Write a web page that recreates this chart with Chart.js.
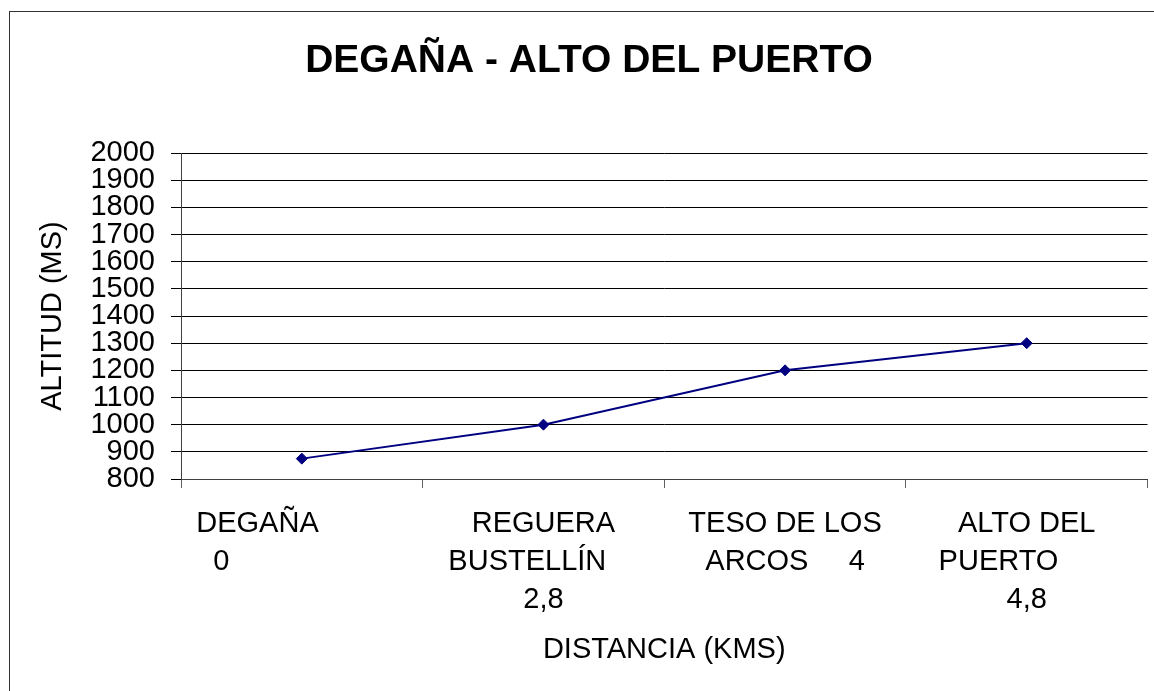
<!DOCTYPE html>
<html>
<head>
<meta charset="utf-8">
<title>DEGAÑA - ALTO DEL PUERTO</title>
<script src="https://cdn.jsdelivr.net/npm/chart.js@4"></script>
<style>
    body { margin: 0; overflow: hidden; background: #ffffff; }
    /* marco del gráfico de Excel, recortado por la derecha y por abajo */
    #marco {
        position: absolute; left: 9px; top: 11px;
        width: 1300px; height: 800px;
        border-left: 1px solid #333333; border-top: 1px solid #333333;
    }
    #myChart { position: absolute; left: 0; top: 0; }
</style>
</head>
<body>
<div id="marco"></div>
<canvas id="myChart" width="1154" height="691"></canvas>
<script>
// categorías del eje x (tal como salen partidas en el gráfico original)
const etiquetas = [
    ['DEGAÑA', '0'],
    ['REGUERA', 'BUSTELLÍN', '2,8'],
    ['TESO DE LOS', 'ARCOS     4'],
    ['ALTO DEL', 'PUERTO', '4,8']
]
// altitud en metros de cada punto
const altitudes = [875, 1000, 1200, 1300]
// eje y
const minY = 800
const maxY = 2000
const pasoY = 100

const titulo = 'DEGAÑA - ALTO DEL PUERTO'
const tituloY = 'ALTITUD (MS)'
const tituloX = 'DISTANCIA (KMS)'

// espacios al final de cada línea para correr el texto a la izquierda como en el Excel
const huecos = [[11, 20], [0, 4, 0], [0, 0], [0, 7, 0]]

const fuente = "Arial, 'Liberation Sans', sans-serif"

const ctx = document.getElementById('myChart').getContext('2d')

const myChart = new Chart(ctx, {
    type: 'line',
    data: {
        labels: etiquetas,
        datasets: [{
            label: tituloY,
            data: altitudes,
            borderColor: '#000080',
            backgroundColor: '#000080',
            borderWidth: 2,
            pointStyle: 'rectRot',
            pointRadius: 5.5,
            pointBorderWidth: 1,
            pointBackgroundColor: '#000080',
            pointBorderColor: '#000080',
            tension: 0
        }]
    },
    options: {
        responsive: false,
        animation: false,
        devicePixelRatio: 1,
        layout: {
            padding: { left: 29, right: 5, top: 0, bottom: 0 }
        },
        plugins: {
            legend: { display: false },
            tooltip: { enabled: false },
            title: {
                display: true,
                text: titulo,
                color: '#000000',
                font: { family: fuente, size: 39, weight: 'bold', lineHeight: 1.2 },
                padding: { top: 37.6, bottom: 68.6 }
            }
        },
        scales: {
            x: {
                offset: true,
                afterFit: scale => { scale.height = 212 },
                border: { display: true, color: '#404040', width: 1 },
                grid: {
                    offset: true,
                    drawOnChartArea: false,
                    drawTicks: true,
                    tickLength: 9,
                    color: '#606060'
                },
                ticks: {
                    maxRotation: 0,
                    autoSkip: false,
                    padding: 16.5,
                    color: '#000000',
                    font: { family: fuente, size: 29, lineHeight: 38 / 29 },
                    callback: (valor, i) => etiquetas[i].map((t, j) => t + ' '.repeat(huecos[i][j]))
                },
                title: {
                    display: true,
                    text: tituloX,
                    color: '#000000',
                    font: { family: fuente, size: 29, lineHeight: 1.2 },
                    padding: { top: 14, bottom: 24 }
                }
            },
            y: {
                min: minY,
                max: maxY,
                afterFit: scale => { scale.width = 152 },
                border: { display: true, color: '#404040', width: 1 },
                grid: {
                    color: '#000000',
                    lineWidth: 1,
                    drawTicks: true,
                    tickLength: 10
                },
                ticks: {
                    stepSize: pasoY,
                    autoSkip: false,
                    padding: 16,
                    color: '#000000',
                    font: { family: fuente, size: 29, lineHeight: 1 },
                    callback: valor => String(valor)
                },
                title: {
                    display: true,
                    text: tituloY,
                    color: '#000000',
                    font: { family: fuente, size: 29, lineHeight: 1.2 },
                    padding: { top: 6.6, bottom: 0 }
                }
            }
        }
    }
});
</script>
</body>
</html>
